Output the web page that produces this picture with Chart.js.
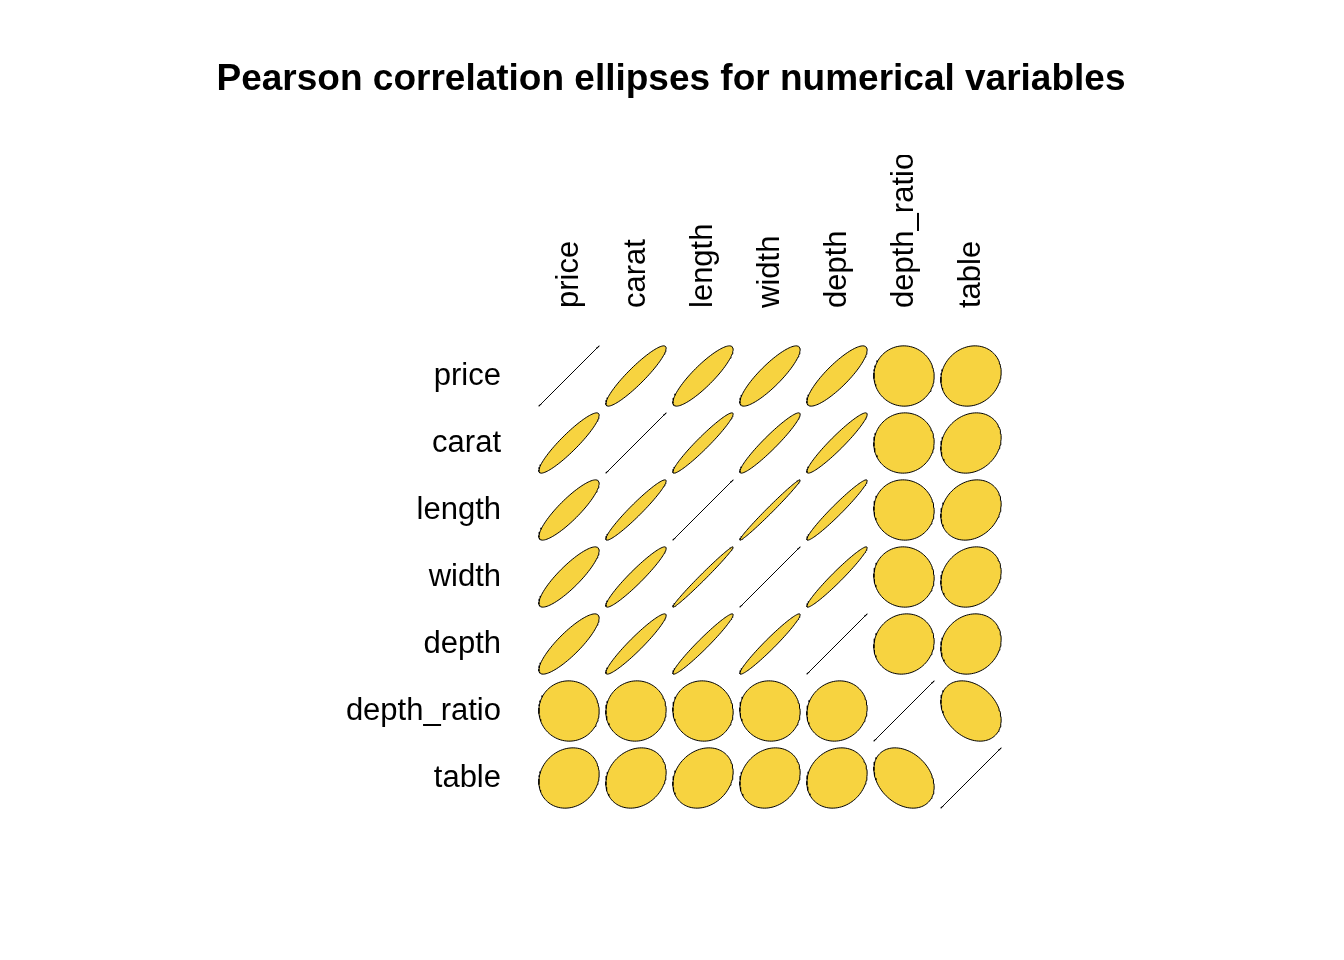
<!DOCTYPE html>
<html>
<head>
<meta charset="utf-8">
<script src="https://cdn.jsdelivr.net/npm/chart.js@4"></script>
<style>body{margin:0;background:#fff}</style>
</head>
<body>
<canvas id="c" width="1344" height="960"></canvas>
<script>
const variables = ['price', 'carat', 'length', 'width', 'depth', 'depth_ratio', 'table'];
const corrPrice      = [1.00, 0.92, 0.88, 0.87, 0.86, -0.01, 0.13];
const corrCarat      = [0.92, 1.00, 0.96, 0.95, 0.95, 0.03, 0.18];
const corrLength     = [0.88, 0.96, 1.00, 0.99, 0.97, -0.03, 0.20];
const corrWidth      = [0.87, 0.95, 0.99, 1.00, 0.97, -0.03, 0.18];
const corrDepth      = [0.86, 0.95, 0.97, 0.97, 1.00, 0.09, 0.15];
const corrDepthRatio = [-0.01, 0.03, -0.03, -0.03, 0.09, 1.00, -0.30];
const corrTable      = [0.13, 0.18, 0.20, 0.18, 0.15, -0.30, 1.00];
const corr = [corrPrice, corrCarat, corrLength, corrWidth, corrDepth, corrDepthRatio, corrTable];

// ellipse outline for a correlation r, centred in cell (col,row)
function ellipsePoints(r, col, row) {
    const d = Math.acos(Math.max(-1, Math.min(1, r)));
    const pts = [];
    for (let k = 0; k <= 100; k++) {
        const t = 2 * Math.PI * k / 100;
        pts.push({ x: col + 0.45 * Math.cos(t + d / 2), y: row - 0.45 * Math.cos(t - d / 2) });
    }
    return pts;
}

const datasets = [];
corr.forEach((rowVals, i) => {
    rowVals.forEach((r, j) => {
        datasets.push({
            data: ellipsePoints(r, j + 1, i + 1),
            showLine: true,
            fill: 'shape',
            backgroundColor: '#F7D340',
            borderColor: '#000',
            borderWidth: 1,
            pointRadius: 0,
            tension: 0
        });
    });
});

const labelsPlugin = {
    id: 'labels',
    afterDraw(chart) {
        const ctx = chart.ctx;
        const xs = chart.scales.x, ys = chart.scales.y;
        ctx.save();
        ctx.fillStyle = '#000';
        ctx.font = 'bold 37px "Liberation Sans", Arial, sans-serif';
        ctx.textAlign = 'center';
        ctx.textBaseline = 'middle';
        ctx.fillText('Pearson correlation ellipses for numerical variables', 671, 80);

        ctx.font = '31px "Liberation Sans", Arial, sans-serif';
        ctx.textAlign = 'right';
        variables.forEach((v, i) => ctx.fillText(v, 501, ys.getPixelForValue(i + 1)));

        ctx.beginPath();
        ctx.rect(0, 155, 1344, 200);
        ctx.clip();
        ctx.textAlign = 'left';
        variables.forEach((v, j) => {
            ctx.save();
            ctx.translate(xs.getPixelForValue(j + 1), 308);
            ctx.rotate(-Math.PI / 2);
            ctx.fillText(v, 0, 0);
            ctx.restore();
        });
        ctx.restore();
    }
};

new Chart(document.getElementById('c'), {
    type: 'scatter',
    data: { datasets },
    options: {
        responsive: false,
        animation: false,
        layout: { padding: { left: 535.5, right: 339.5, top: 342.5, bottom: 148.5 } },
        plugins: { legend: { display: false }, tooltip: { enabled: false } },
        scales: {
            x: { type: 'linear', min: 0.5, max: 7.5, display: false },
            y: { type: 'linear', min: 0.5, max: 7.5, reverse: true, display: false }
        }
    },
    plugins: [labelsPlugin]
});
</script>
</body>
</html>
